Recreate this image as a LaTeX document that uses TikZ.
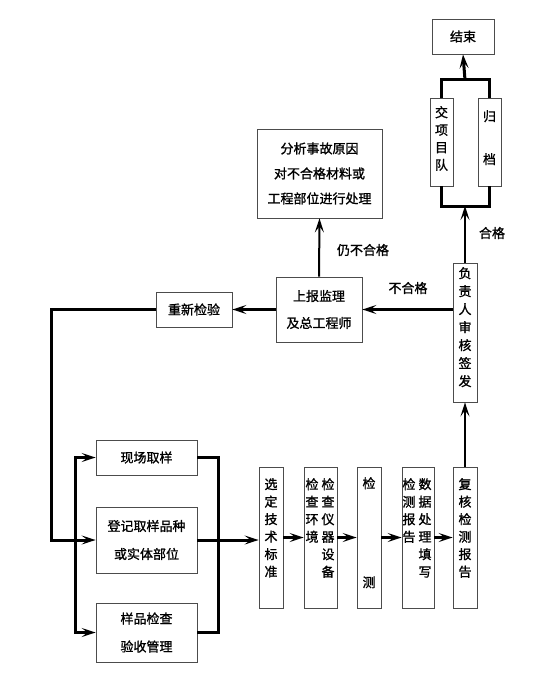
\documentclass[tikz,border=0pt]{standalone}
\usepackage{fontspec}
\newfontfamily\cjk[FakeBold=1.2]{Noto Sans CJK SC}
\usetikzlibrary{arrows.meta}
\begin{document}
\begin{tikzpicture}[x=1pt,y=-1pt,
  box/.style={draw=gray!60!black, line width=0.8pt, inner sep=0pt, font=\cjk\fontsize{13}{25}\selectfont, align=center},
  vtext/.style={inner sep=0pt, anchor=north, font=\cjk\fontsize{13}{17.5}\selectfont, align=center},
  lbl/.style={inner sep=0pt, font=\cjk\fontsize{13}{16}\selectfont},
  thk/.style={line width=3pt},
  thn/.style={line width=2pt},
  arr/.style={-{Stealth[length=14pt,width=9pt,inset=6pt]}},
]
\useasboundingbox (0,0) rectangle (554,674);

% boxes
\node[box, minimum width=62pt, minimum height=35pt] (end) at (463,36.5) {结束};
\node[box, minimum width=23pt, minimum height=88pt] (jiao) at (441.5,142) {};
\node[box, minimum width=23pt, minimum height=88pt] (gui) at (489.5,142) {};
\node[box, minimum width=125pt, minimum height=89pt] (fenxi) at (319.5,173.5) {分析事故原因\\对不合格材料或\\工程部位进行处理};
\node[box, minimum width=86pt, minimum height=65pt, font=\cjk\fontsize{13}{27}\selectfont] (shangbao) at (319,309.5) {上报监理\\及总工程师};
\node[box, minimum width=76pt, minimum height=35pt] (chongxin) at (194,309.5) {重新检验};
\node[box, minimum width=24pt, minimum height=139pt] (fuze) at (465,332.5) {};
\node[box, minimum width=101pt, minimum height=35pt] (xianchang) at (146.5,457.5) {现场取样};
\node[box, minimum width=101pt, minimum height=66pt, font=\cjk\fontsize{13}{28}\selectfont] (dengji) at (146.5,540) {登记取样品种\\或实体部位};
\node[box, minimum width=101pt, minimum height=59pt, font=\cjk\fontsize{13}{28}\selectfont] (yangpin) at (146.5,632.5) {样品检查\\验收管理};
\node[box, minimum width=24pt, minimum height=141pt] (xuanding) at (271,537.5) {};
\node[box, minimum width=33pt, minimum height=141pt] (jiancha) at (320.5,537.5) {};
\node[box, minimum width=24pt, minimum height=141pt] (jiance) at (369,537.5) {};
\node[box, minimum width=32pt, minimum height=141pt] (shuju) at (418,537.5) {};
\node[box, minimum width=24pt, minimum height=141pt] (fuhe) at (465,537.5) {};

% vertical texts
\node[vtext] (t-jiao) at (441.5,106) {交\\项\\目\\队};
\node[vtext, font=\cjk\fontsize{13}{43}\selectfont] (t-gui) at (489.5,110) {归\\档};
\node[vtext, font=\cjk\fontsize{13}{18}\selectfont] (t-fuze) at (465,267) {负\\责\\人\\审\\核\\签\\发};
\node[vtext] (t-xuanding) at (271,478) {选\\定\\技\\术\\标\\准};
\node[vtext] (t-jiancha1) at (328,478) {检\\查\\仪\\器\\设\\备};
\node[vtext] (t-jiancha2) at (312,478) {检\\查\\环\\境};
\node[vtext, font=\cjk\fontsize{13}{99}\selectfont] (t-jiance) at (369,477) {检\\测};
\node[vtext] (t-shuju1) at (425,478) {数\\据\\处\\理\\填\\写};
\node[vtext] (t-shuju2) at (409,478) {检\\测\\报\\告};
\node[vtext] (t-fuhe) at (465,478) {复\\核\\检\\测\\报\\告};

% labels
\node[lbl] (l-hege) at (492,233) {合格};
\node[lbl] (l-buhege) at (408,288) {不合格};
\node[lbl] (l-reng) at (363,250) {仍不合格};

% coordinates
\coordinate (bb) at (465,206);
\coordinate (bt) at (465,80);

% bracket
\draw[thk] (jiao.south) -- (jiao.south |- bb) -- (gui.south |- bb) -- (gui.south);
\draw[thk] (jiao.north) -- (jiao.north |- bt) -- (gui.north |- bt) -- (gui.north);
\draw[thk,arr] (bt) -- (end.south);

% connectors
\draw[thn,arr] (fuhe.north) -- (fuze.south);
\draw[thn,arr] (fuze.north) -- (bb);
\draw[thk,arr] (shangbao.east -| fuze.west) -- (shangbao.east);
\draw[thn,arr] (shangbao.north) -- (fenxi.south);
\draw[thk,arr] (shangbao.west) -- (chongxin.east);
\draw[thk,arr] (chongxin.west) -- (51,309.5) -- (51,540) -- (dengji.west);
\draw[thk,arr] (75,540) -- (75,457.5) -- (xianchang.west);
\draw[thk,arr] (75,540) -- (75,632.5) -- (yangpin.west);
\draw[thk] (xianchang.east) -- (218,457.5) -- (218,632.5) -- (yangpin.east);
\draw[thk,arr] (dengji.east) -- (dengji.east -| xuanding.west);
\draw[thk,arr] (xuanding.east) -- (jiancha.west);
\draw[thk,arr] (jiancha.east) -- (jiance.west);
\draw[thk,arr] (jiance.east) -- (shuju.west);
\draw[thk,arr] (shuju.east) -- (fuhe.west);
\end{tikzpicture}
\end{document}
